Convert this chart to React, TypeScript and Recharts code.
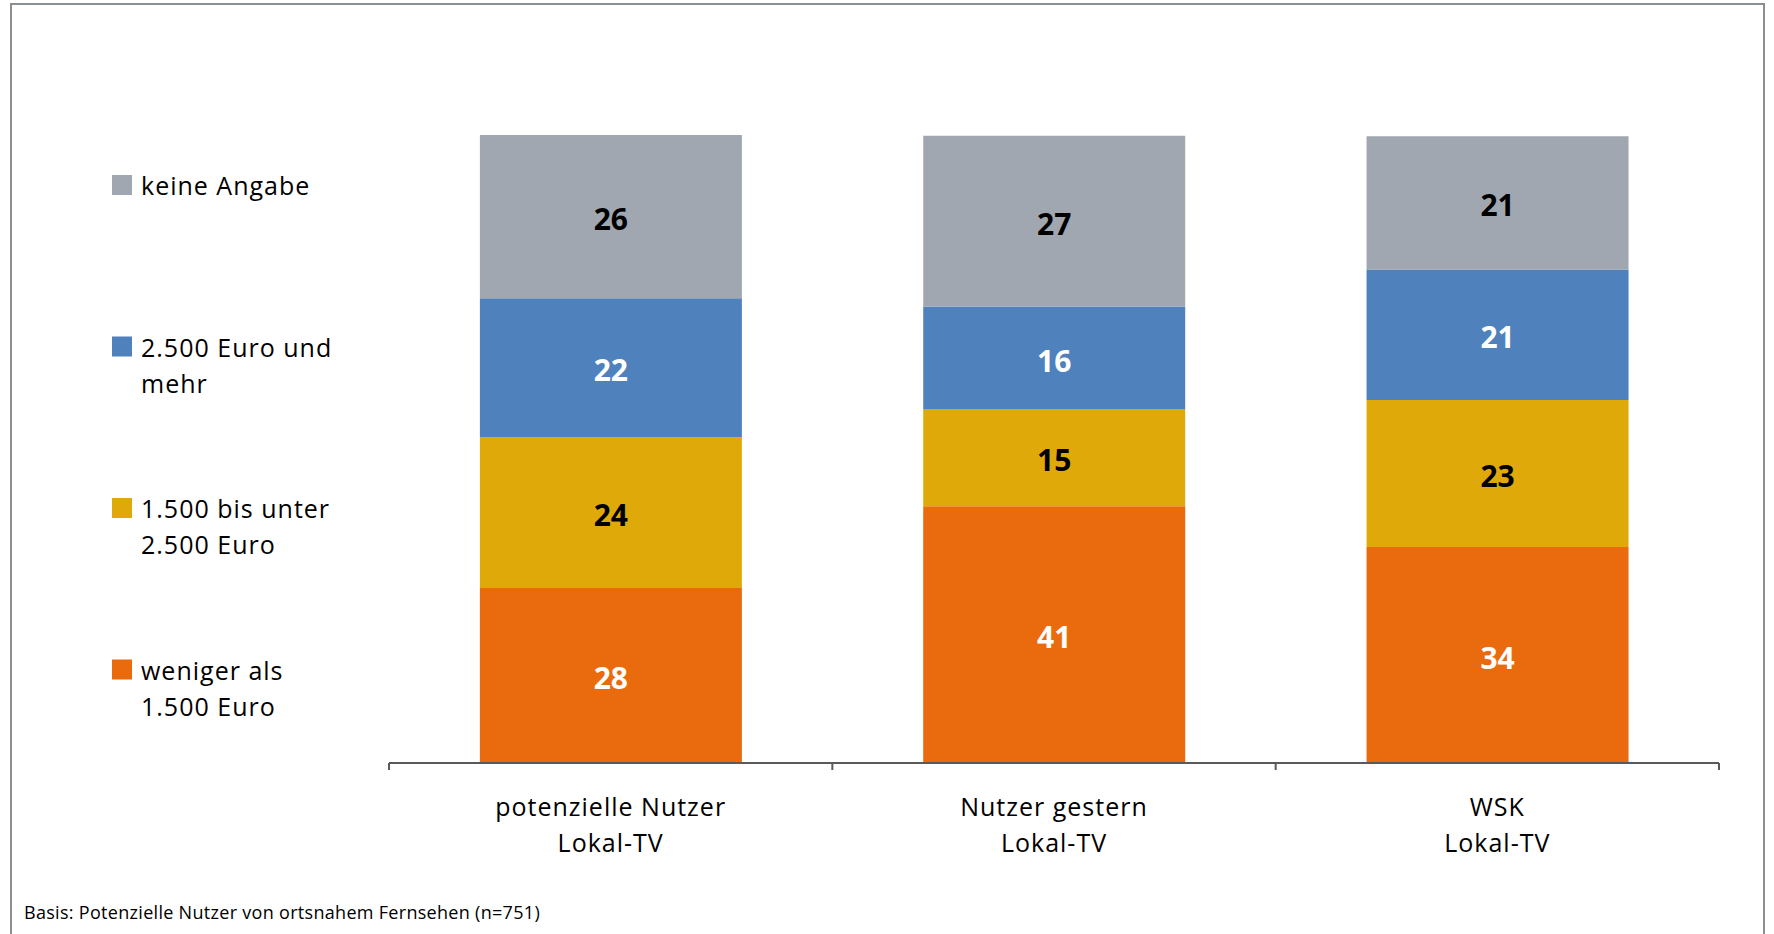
import { BarChart, Bar, XAxis, YAxis, LabelList } from "recharts";

// Haushaltsnettoeinkommen nach Nutzergruppe (Prozent)
const categories = ["potenzielle Nutzer\nLokal-TV", "Nutzer gestern\nLokal-TV", "WSK\nLokal-TV"];
const wenigerAls1500 = [28.0, 40.9, 34.4];
const von1500bis2500 = [23.9, 15.4, 23.4];
const ab2500 = [22.1, 16.4, 20.8];
const keineAngabe = [26.0, 27.2, 21.2];
const footnote = "Basis: Potenzielle Nutzer von ortsnahem Fernsehen (n=751)";

// bottom → top of the stack
const series = [
  { key: "weniger", label: ["weniger als", "1.500 Euro"], values: wenigerAls1500, color: "#EA6B0D", text: "#ffffff" },
  { key: "mittel", label: ["1.500 bis unter", "2.500 Euro"], values: von1500bis2500, color: "#E0A90A", text: "#000000" },
  { key: "hoch", label: ["2.500 Euro und", "mehr"], values: ab2500, color: "#4F81BD", text: "#ffffff" },
  { key: "keine", label: ["keine Angabe"], values: keineAngabe, color: "#A0A7B0", text: "#000000" },
];

const data = categories.map((name, i) => {
  const row: Record<string, string | number> = { name };
  series.forEach((s) => (row[s.key] = s.values[i]));
  return row;
});

const W = 1774;
const H = 934;
const FONT = "'Open Sans', sans-serif";
const M = { top: 135, right: 55, left: 389 };
const X_AXIS_H = 171;
const AXIS_Y = H - X_AXIS_H;
const BAND = (W - M.left - M.right) / categories.length;

function CategoryTick(props: any) {
  const { x, payload, index } = props;
  const lines = String(payload.value).split("\n");
  const half = BAND / 2;
  return (
    <g>
      <line x1={x - half} x2={x - half} y1={AXIS_Y} y2={AXIS_Y + 7} stroke="#5a5a5a" strokeWidth={2} />
      {index === categories.length - 1 && (
        <line x1={x + half} x2={x + half} y1={AXIS_Y} y2={AXIS_Y + 7} stroke="#5a5a5a" strokeWidth={2} />
      )}
      <text x={x} y={AXIS_Y + 53} textAnchor="middle" fontSize={25} letterSpacing={1} fill="#000">
        {lines.map((l, i) => (
          <tspan key={i} x={x} dy={i === 0 ? 0 : 36}>
            {l}
          </tspan>
        ))}
      </text>
    </g>
  );
}

function SideLegend() {
  const items = [...series].reverse();
  return (
    <svg width={360} height={760} style={{ position: "absolute", left: 0, top: 0 }}>
      {items.map((s, i) => {
        const base = 195 + i * 161.5;
        return (
          <g key={s.key}>
            <rect x={112} y={base - 20} width={20} height={20} fill={s.color} />
            <text x={141} y={base} fontSize={25} letterSpacing={1} fill="#000">
              {s.label.map((l, j) => (
                <tspan key={j} x={141} dy={j === 0 ? 0 : 36}>
                  {l}
                </tspan>
              ))}
            </text>
          </g>
        );
      })}
    </svg>
  );
}

export default function App() {
  return (
    <div style={{ position: "relative", width: W, height: H, overflow: "hidden", background: "#fff", fontFamily: FONT }}>
      <style>{"body{margin:0}"}</style>
      <div
        style={{
          position: "absolute",
          left: 10,
          top: 3,
          width: 1751,
          height: 1000,
          border: "2px solid #8a8f94",
        }}
      />
      <BarChart
        width={W}
        height={H}
        data={data}
        margin={{ top: M.top, right: M.right, left: M.left, bottom: 0 }}
        barCategoryGap="20.5%"
      >
        <XAxis
          dataKey="name"
          height={X_AXIS_H}
          interval={0}
          tickLine={false}
          axisLine={{ stroke: "#5a5a5a", strokeWidth: 2 }}
          tick={<CategoryTick />}
        />
        <YAxis hide domain={[0, 100]} />
        {series.map((s) => (
          <Bar key={s.key} dataKey={s.key} stackId="a" fill={s.color} isAnimationActive={false}>
            <LabelList
              dataKey={s.key}
              position="center"
              fill={s.text}
              fontSize={30}
              fontWeight={700}
              dy={3}
              formatter={(v: any) => Math.round(Number(v))}
            />
          </Bar>
        ))}
      </BarChart>
      <SideLegend />
      <div
        style={{
          position: "absolute",
          left: 24,
          top: 900,
          fontSize: 18,
          letterSpacing: 0.3,
          color: "#000",
          whiteSpace: "nowrap",
        }}
      >
        {footnote}
      </div>
    </div>
  );
}
